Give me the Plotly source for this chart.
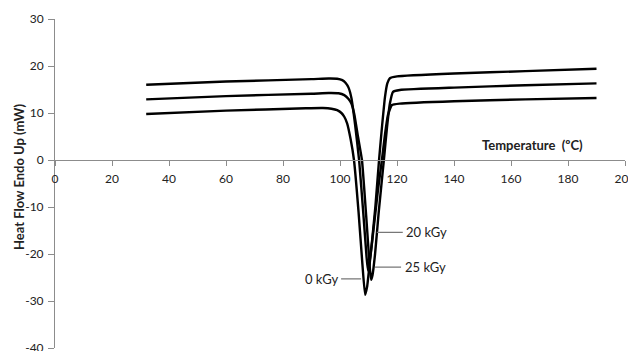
import plotly.graph_objects as go

# Data (temperature in °C, heat flow in mW)
t_20 = [32, 60, 90, 96, 99, 100.8, 102, 103, 104, 105.3, 106.7, 108.2, 109.3, 109.8, 110.3, 111.2, 112.4, 113.7, 114.8, 115.8, 116.6, 117.5, 120, 140, 165, 190]
hf_20 = [16.0, 16.7, 17.2, 17.35, 17.3, 17.0, 16.4, 15.4, 13.2, 7.5, 0.0, -11.5, -20.5, -23.5, -22.0, -17.5, -10.0, 0.0, 7.5, 13.5, 16.3, 17.4, 17.8, 18.4, 18.9, 19.4]

t_25 = [32, 60, 90, 96, 99.5, 101.5, 103, 104, 105, 106.3, 107.7, 109.2, 110.4, 110.9, 111.4, 112.3, 113.6, 115.4, 116.5, 117.5, 118.6, 121, 140, 165, 190]
hf_25 = [12.9, 13.6, 14.1, 14.25, 14.2, 13.8, 13.0, 12.0, 9.8, 5.0, 0.0, -12.0, -22.5, -25.5, -24.5, -20.0, -11.0, 0.0, 7.0, 12.0, 14.5, 14.9, 15.4, 15.9, 16.3]

t_0 = [32, 60, 88, 94, 97, 99, 100.5, 101.5, 102.5, 103.7, 104.9, 106.5, 107.9, 108.8, 109.5, 110.6, 112.0, 113.3, 114.7, 115.8, 116.8, 118.2, 121, 140, 165, 190]
hf_0 = [9.8, 10.5, 11.0, 11.05, 10.9, 10.6, 10.0, 9.2, 7.8, 4.5, 0.0, -11.0, -22.5, -28.7, -27.0, -21.0, -13.5, -6.5, 0.0, 5.5, 9.5, 11.7, 12.0, 12.5, 12.9, 13.2]

series_names = ["20 kGy", "25 kGy", "0 kGy"]
x_ticks = [0, 20, 40, 60, 80, 100, 120, 140, 160, 180, 200]
y_ticks = [30, 20, 10, 0, -10, -20, -30, -40]

# label pointer tips on the chart (temperature, heat flow) and text offsets in px
label_points = [(112.9, -15.4), (112.3, -22.8), (107.4, -25.3)]
label_offsets = [(50, 0), (50, 0), (-40, 0)]

FONT = "Lato, 'Open Sans', sans-serif"
AX = "#8c8c8c"
TXT = "#222"

fig = go.Figure()
for tx, hy, name in [(t_20, hf_20, series_names[0]), (t_25, hf_25, series_names[1]), (t_0, hf_0, series_names[2])]:
    fig.add_trace(go.Scatter(x=tx, y=hy, mode="lines", name=name,
                             line=dict(color="black", width=2.4, shape="spline", smoothing=0.4),
                             showlegend=False, hoverinfo="skip"))

ymin, ymax = -40, 30
fig.update_layout(
    width=628, height=343,
    margin=dict(l=47, r=11, t=11, b=3),
    paper_bgcolor="white", plot_bgcolor="white",
    font=dict(family=FONT, size=12, color=TXT),
    xaxis=dict(range=[0, 200], tickvals=x_ticks, ticktext=[str(v) for v in x_ticks],
               showline=True, linecolor=AX, linewidth=1, ticks="outside", ticklen=5,
               tickcolor=AX, showgrid=False, zeroline=False, anchor="free",
               position=(0 - ymin) / (ymax - ymin), automargin=False,
               ticklabelstandoff=3, ticklabeloverflow="allow",
               tickfont=dict(size=12, color=TXT)),
    yaxis=dict(range=[ymin, ymax], tickvals=y_ticks, ticktext=[str(v) for v in y_ticks],
               showline=True, linecolor=AX, linewidth=1, ticks="outside", ticklen=6,
               tickcolor=AX, showgrid=False, zeroline=False, automargin=False,
               ticklabelstandoff=2, ticklabeloverflow="allow",
               tickfont=dict(size=12, color=TXT)),
)

annotations = [
    dict(text="<b>Heat Flow Endo Up (mW)</b>", xref="paper", yref="paper",
         x=-0.063, y=0.52, textangle=-90, showarrow=False, xanchor="center", yanchor="middle",
         font=dict(size=13, color=TXT)),
    dict(text="<b>Temperature  (ºC)</b>", xref="x", yref="y", x=167.7, y=3.2,
         showarrow=False, xanchor="center", yanchor="middle", font=dict(size=13, color=TXT)),
]
for (px, py), (ax, ay), name in zip(label_points, label_offsets, series_names):
    annotations.append(dict(text=name, xref="x", yref="y", x=px, y=py, ax=ax, ay=ay,
                            showarrow=True, arrowhead=0, arrowwidth=1.3, arrowcolor="#777",
                            font=dict(size=13, color=TXT), borderpad=3))
fig.update_layout(annotations=annotations)

fig.write_html("out.html")
